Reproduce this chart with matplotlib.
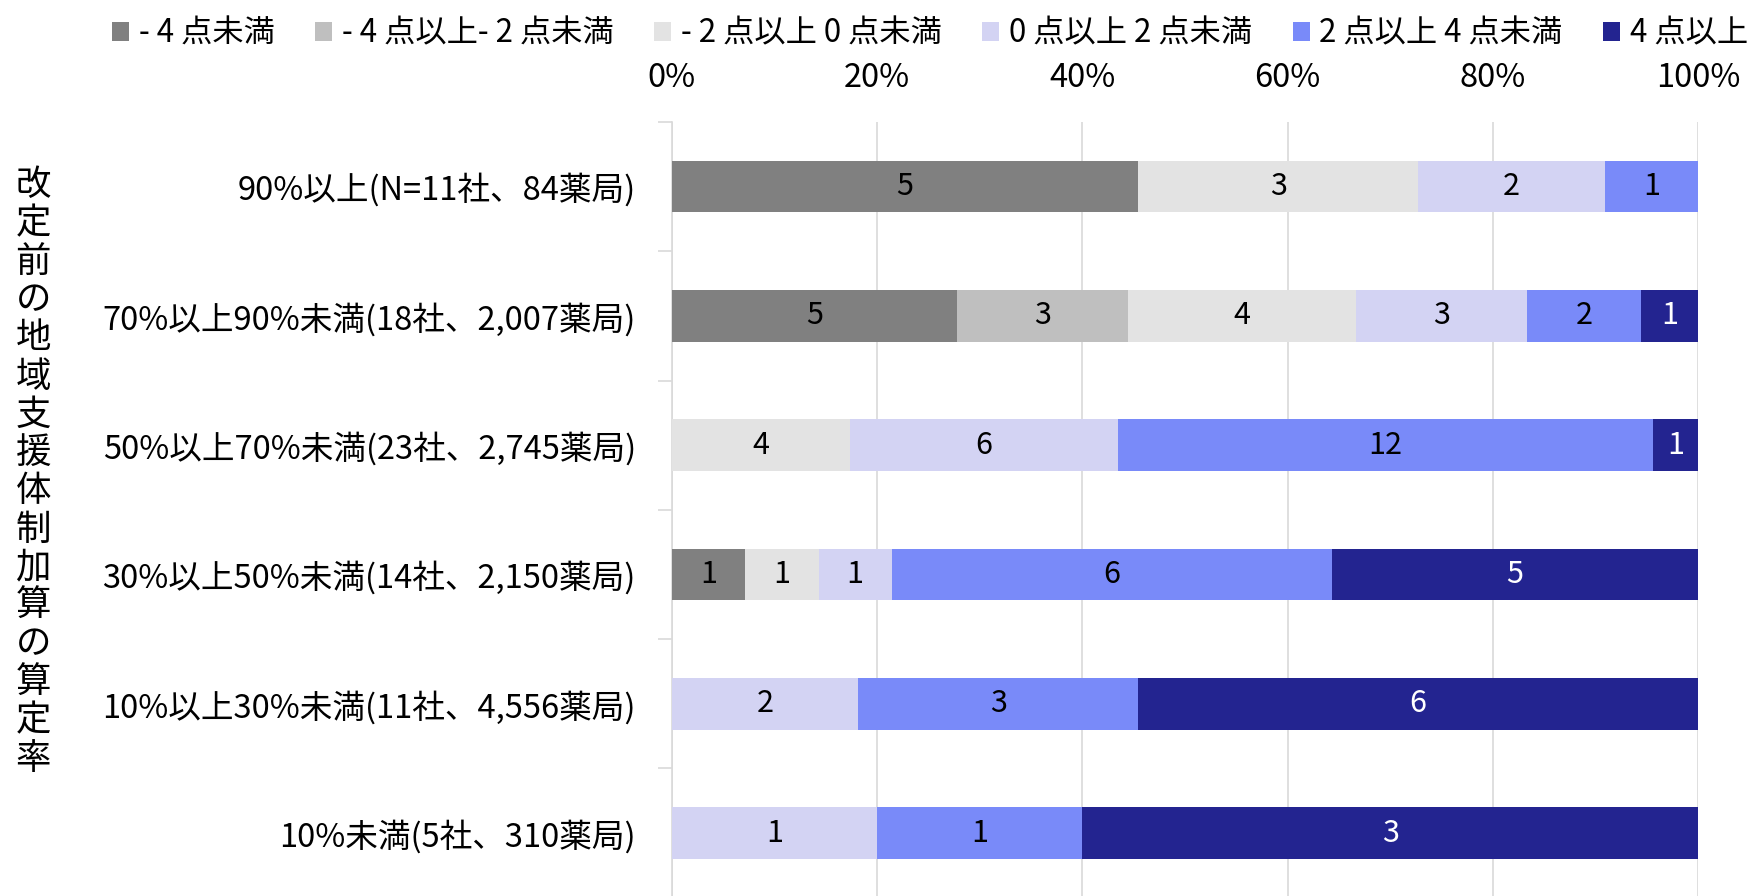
import numpy as np
import matplotlib
matplotlib.use("Agg")
import matplotlib.pyplot as plt

plt.rcParams['font.family'] = ['Noto Sans CJK JP', 'DejaVu Sans']

# categories (top to bottom)
categories = [
    "90%以上(N=11社、84薬局)",
    "70%以上90%未満(18社、2,007薬局)",
    "50%以上70%未満(23社、2,745薬局)",
    "30%以上50%未満(14社、2,150薬局)",
    "10%以上30%未満(11社、4,556薬局)",
    "10%未満(5社、310薬局)",
]
series_names = ["- 4 点未満", "- 4 点以上- 2 点未満", "- 2 点以上 0 点未満",
                "0 点以上 2 点未満", "2 点以上 4 点未満", "4 点以上"]
# counts per category, one list per series
s_lt_m4 = [5, 5, 0, 1, 0, 0]
s_m4_m2 = [0, 3, 0, 0, 0, 0]
s_m2_0 = [3, 4, 4, 1, 0, 0]
s_0_2 = [2, 3, 6, 1, 2, 1]
s_2_4 = [1, 2, 12, 6, 3, 1]
s_ge4 = [0, 1, 1, 5, 6, 3]
colors = ["#808080", "#BFBFBF", "#E3E3E3", "#D3D3F3", "#798AF9", "#232490"]
text_colors = ["black", "black", "black", "black", "black", "white"]
ylabel = "改定前の地域支援体制加算の算定率"

series = np.array([s_lt_m4, s_m4_m2, s_m2_0, s_0_2, s_2_4, s_ge4], dtype=float)
totals = series.sum(axis=0)
pct = series / totals * 100

fig = plt.figure(figsize=(17.48, 8.96), dpi=100)
ax = fig.add_axes([0.3844, -0.002, 0.5870, 0.866])

y = np.arange(len(categories))
left = np.zeros(len(categories))
handles = []
for i in range(len(series)):
    b = ax.barh(y, pct[i], left=left, height=0.4, color=colors[i],
                label=series_names[i], zorder=3)
    handles.append(b)
    for j in range(len(categories)):
        if series[i, j] > 0:
            ax.text(left[j] + pct[i, j] / 2, y[j], f"{int(series[i, j])}",
                    ha='center', va='center', fontsize=22,
                    color=text_colors[i], zorder=4)
    left += pct[i]

ax.set_xlim(0, 100)
ax.set_ylim(len(categories) - 0.5, -0.5)
ax.set_yticks(y)
ax.set_yticklabels(categories, fontsize=23.5)
ax.set_yticks(np.arange(-0.5, len(categories), 1), minor=True)
ax.tick_params(axis='y', which='major', length=0, pad=26)
ax.tick_params(axis='y', which='minor', length=10, color='#D9D9D9', width=1.2)

ax.xaxis.tick_top()
ax.set_xticks([0, 20, 40, 60, 80, 100])
ax.set_xticklabels(["0%", "20%", "40%", "60%", "80%", "100%"], fontsize=23.5)
ax.tick_params(axis='x', length=0, pad=20)
ax.grid(axis='x', color='#D9D9D9', linewidth=1.2, zorder=0)

for s in ['top', 'right', 'bottom']:
    ax.spines[s].set_visible(False)
ax.spines['left'].set_color('#D9D9D9')
ax.spines['left'].set_linewidth(1.2)

fig.text(0.019, 0.473, "\n".join(ylabel), fontsize=25.5, linespacing=1.08,
         ha='center', va='center')

fig.legend(handles=handles, labels=series_names, loc='upper center',
           bbox_to_anchor=(0.532, 1.012), ncol=6, frameon=False, fontsize=22.5,
           handlelength=0.55, handleheight=0.55, handletextpad=0.3,
           columnspacing=1.3)

fig.savefig("out.png", dpi=100)
